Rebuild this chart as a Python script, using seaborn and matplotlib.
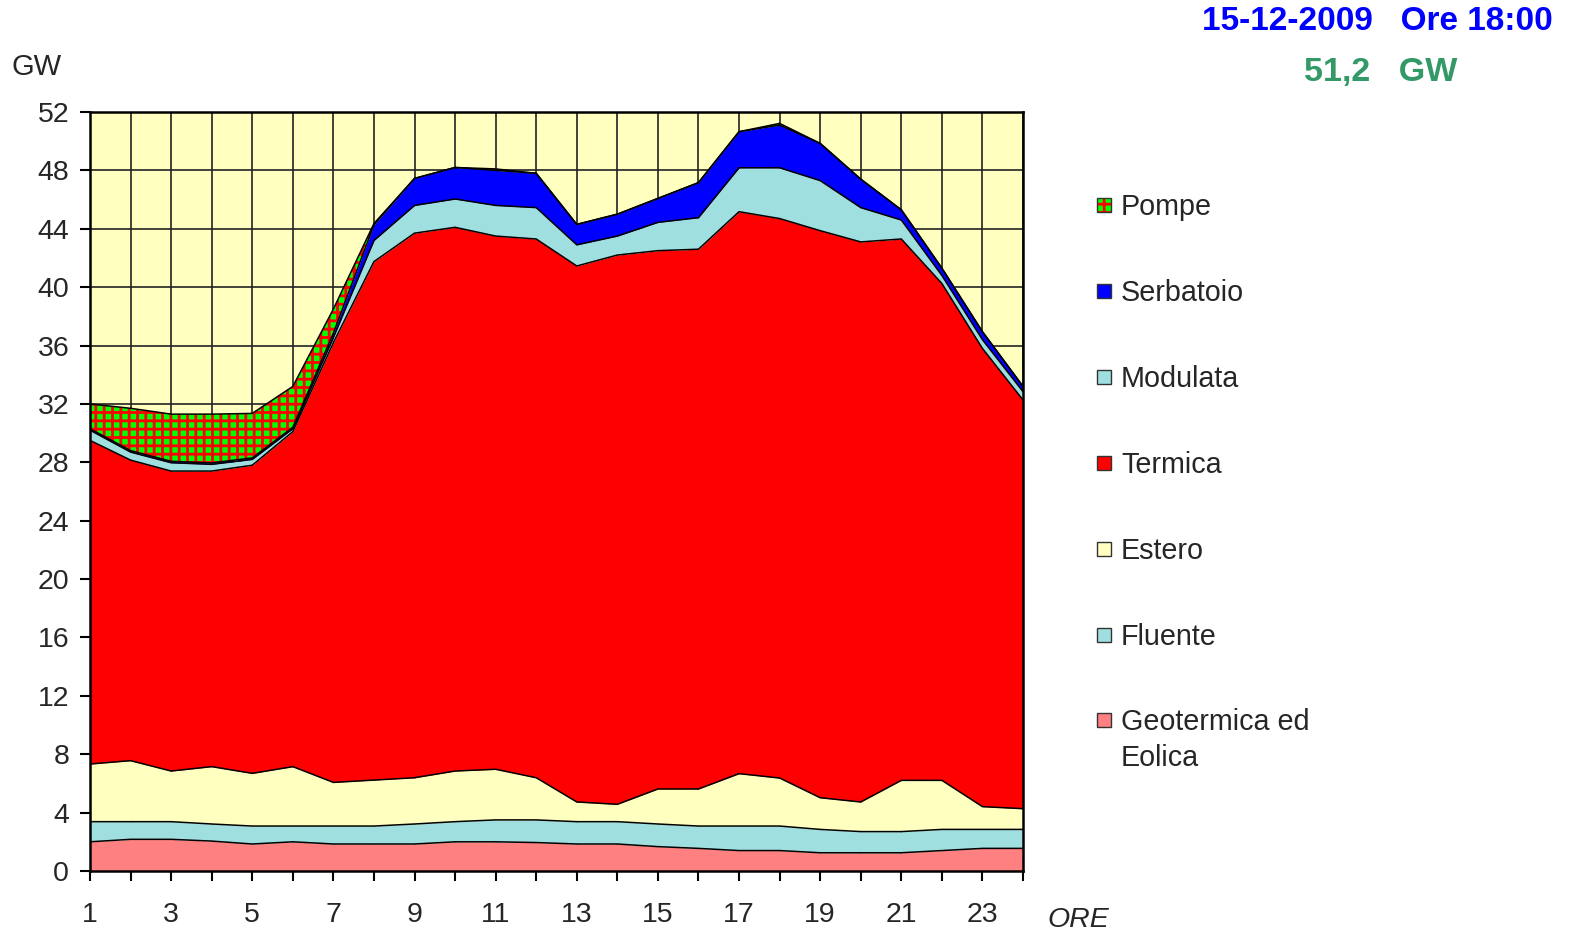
import numpy as np
import pandas as pd
import seaborn as sns
import matplotlib.pyplot as plt
from matplotlib.patches import Rectangle

# Hourly production by source (GW)
ore = list(range(1, 25))
geotermica = [2.0, 2.17, 2.17, 2.05, 1.85, 2.0, 1.85, 1.85, 1.85, 2.0, 2.0, 1.95,
              1.85, 1.85, 1.67, 1.55, 1.4, 1.4, 1.25, 1.25, 1.25, 1.4, 1.55, 1.55]
fluente = [1.38, 1.21, 1.21, 1.17, 1.23, 1.08, 1.23, 1.23, 1.37, 1.38, 1.5, 1.55,
           1.53, 1.53, 1.55, 1.53, 1.68, 1.68, 1.6, 1.45, 1.45, 1.45, 1.3, 1.3]
estero = [3.95, 4.18, 3.47, 3.93, 3.61, 4.07, 2.99, 3.15, 3.17, 3.47, 3.47, 2.89,
          1.35, 1.19, 2.4, 2.54, 3.59, 3.29, 2.17, 2.03, 3.51, 3.36, 1.56, 1.42]
termica = [22.17, 20.59, 20.55, 20.25, 21.11, 22.95, 30.13, 35.52, 37.31, 37.25, 36.53, 36.91,
           36.72, 37.63, 36.88, 36.98, 38.5, 38.33, 38.85, 38.37, 37.09, 34.04, 31.39, 28.0]
modulata = [0.7, 0.55, 0.57, 0.46, 0.4, 0.2, 0.35, 1.45, 1.9, 1.94, 2.1, 2.15,
            1.45, 1.3, 1.94, 2.16, 3.01, 3.48, 3.43, 2.35, 1.3, 0.55, 0.6, 0.57]
serbatoio = [0.1, 0.1, 0.1, 0.1, 0.1, 0.1, 0.3, 1.06, 1.85, 2.16, 2.4, 2.35,
             1.4, 1.5, 1.64, 2.4, 2.47, 2.92, 2.55, 1.95, 0.7, 0.5, 0.55, 0.36]
pompe = [1.7, 2.9, 3.23, 3.34, 3.05, 2.8, 1.65, 0.1, 0.0, 0.0, 0.1, 0.0,
         0.0, 0.0, 0.0, 0.0, 0.0, 0.12, 0.0, 0.0, 0.0, 0.0, 0.0, 0.0]

fonti = ["Geotermica ed\nEolica", "Fluente", "Estero", "Termica", "Modulata", "Serbatoio", "Pompe"]
serie = [geotermica, fluente, estero, termica, modulata, serbatoio, pompe]
colori = ["#FF8080", "#A0DFE0", "#FFFFC0", "#FF0000", "#A0DFE0", "#0000FF", "#00FF00"]

sns.set_style("ticks")
plt.rcParams['font.family'] = ['Liberation Sans', 'DejaVu Sans']
plt.rcParams['hatch.linewidth'] = 2.0

W, H = 1569, 936
fig = plt.figure(figsize=(W / 100, H / 100), dpi=100)
ax = fig.add_axes([90 / W, 65 / H, 933 / W, 759 / H])
ax.set_facecolor("#FFFFC0")

# cumulative tops for stacking
cum = np.cumsum(np.array(serie), axis=0)
base = np.zeros(len(ore))
for i, nome in enumerate(fonti):
    if nome == "Pompe":
        ax.fill_between(ore, base, cum[i], facecolor=colori[i], edgecolor="#FF0000",
                        hatch="++", linewidth=0, zorder=1)
    else:
        ax.fill_between(ore, base, cum[i], facecolor=colori[i], linewidth=0, zorder=1)
    base = cum[i]

# boundary lines through seaborn
bordi = pd.DataFrame({"ore": np.tile(ore, len(fonti)),
                      "gw": cum.ravel(),
                      "fonte": np.repeat(fonti, len(ore))})
sns.lineplot(data=bordi, x="ore", y="gw", hue="fonte", palette={f: "black" for f in fonti},
             linewidth=1.1, legend=False, ax=ax, zorder=2)

ax.set_xlim(1, 24)
ax.set_ylim(0, 52)
ax.set_xticks(ore)
ax.set_xticklabels([str(h) if h % 2 else "" for h in ore])
ax.set_yticks(range(0, 53, 4))
ax.set_xlabel("")
ax.set_ylabel("")
ax.grid(True, color="#222222", linewidth=1.2)
ax.set_axisbelow(True)
ax.tick_params(axis="both", labelsize=20.5, length=7, width=1.5, color="black")
ax.tick_params(axis="x", pad=15)
ax.tick_params(axis="y", pad=8)
for s in ax.spines.values():
    s.set_linewidth(1.8)
    s.set_color("black")

fig.text(37 / W, 1 - 67 / H, "GW", fontsize=21, ha="center", va="center")
fig.text(1078 / W, 1 - 920 / H, "ORE", fontsize=20.5, style="italic", ha="center", va="center")
fig.text(1553 / W, 1 - 22 / H, "15-12-2009   Ore 18:00", fontsize=24, weight="bold",
         color="#0000FF", ha="right", va="center")
fig.text(1381 / W, 1 - 72 / H, "51,2   GW", fontsize=24.5, weight="bold",
         color="#339966", ha="center", va="center")

# legend, top to bottom
voce_y = [205, 291, 377, 463, 549, 635, 720]
for nome, col, y in zip(fonti[::-1], colori[::-1], voce_y):
    x0, lato = 1097, 14
    rect = Rectangle((x0 / W, 1 - (y + lato / 2) / H), lato / W, lato / H,
                     transform=fig.transFigure, facecolor=col,
                     edgecolor="#FF0000" if nome == "Pompe" else "none",
                     hatch="++" if nome == "Pompe" else None, linewidth=0)
    fig.patches.append(rect)
    fig.patches.append(Rectangle((x0 / W, 1 - (y + lato / 2) / H), lato / W, lato / H,
                                 transform=fig.transFigure, fill=False,
                                 edgecolor="#333333", linewidth=1))
    if "\n" in nome:
        fig.text(1121 / W, 1 - (y - 12) / H, nome, fontsize=20.7, ha="left", va="top",
                 linespacing=1.38)
    else:
        fig.text(1121 / W, 1 - (y + 2) / H, nome, fontsize=20.7, ha="left", va="center")

fig.savefig("out.png", dpi=100)
